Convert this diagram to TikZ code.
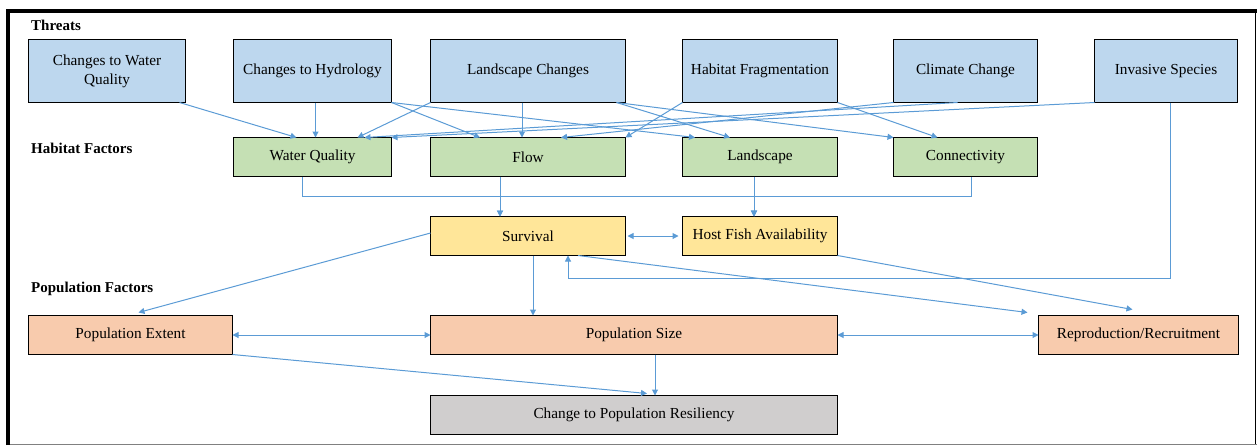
\documentclass[tikz,border=0pt]{standalone}
\usepackage{fontspec}
\setmainfont{Liberation Serif}
\usepackage{xcolor}
\usetikzlibrary{arrows.meta, positioning}

\definecolor{threatblue}{HTML}{BDD7EE}
\definecolor{habgreen}{HTML}{C5E0B4}
\definecolor{survyellow}{HTML}{FFE699}
\definecolor{poporange}{HTML}{F8CBAD}
\definecolor{resgray}{HTML}{D0CECE}
\definecolor{linkblue}{HTML}{5B9BD5}

\begin{document}
\begin{tikzpicture}[
    every node/.style={font=\fontsize{15.3}{19}\selectfont},
    box/.style={rectangle, draw=black, line width=1.2pt, align=center, inner sep=3pt, outer sep=0pt},
    threat/.style={box, fill=threatblue, minimum height=63pt},
    habitat/.style={box, fill=habgreen, minimum height=39pt},
    demog/.style={box, fill=survyellow, minimum height=39pt},
    popfac/.style={box, fill=poporange, minimum height=39pt},
    outcome/.style={box, fill=resgray, minimum height=39pt},
    heading/.style={font=\fontsize{15}{19}\selectfont\bfseries, anchor=base west, inner sep=0pt},
    arrow/.style={-{Triangle[length=6pt,width=6pt]}, draw=linkblue, line width=1pt},
    dbl/.style={arrow, {Triangle[length=6pt,width=6pt]}-{Triangle[length=6pt,width=6pt]}},
]
\useasboundingbox (0,0) rectangle (1257pt,-445pt);

% page frame
\draw[line width=4pt] (8pt,-445pt) -- (8pt,-11pt) -- (1257pt,-11pt);
\draw[line width=0.8pt] (1255.5pt,-11pt) -- (1255.5pt,-445pt);
\draw[gray, line width=1pt] (10pt,-444pt) -- (1257pt,-444pt);

\node[heading] (hthreat) at (31pt,-30pt) {Threats};
\node[heading] (hhab) at (31pt,-153pt) {Habitat Factors};
\node[heading] (hpop) at (31pt,-292pt) {Population Factors};

% threats
\node[threat, minimum width=157pt, anchor=north west] (waterq) at (28.5pt,-39.5pt) {Changes to Water\\Quality};
\node[threat, minimum width=158pt, right=48pt of waterq] (hydro) {Changes to Hydrology};
\node[threat, minimum width=195pt, right=39pt of hydro] (landch) {Landscape Changes};
\node[threat, minimum width=155pt, right=57pt of landch] (frag) {Habitat Fragmentation};
\node[threat, minimum width=144pt, right=56pt of frag] (climate) {Climate Change};
\node[threat, minimum width=143pt, right=57pt of climate] (invasive) {Invasive Species};

% habitat factors
\node[habitat, minimum width=158pt, below=35pt of hydro] (wq) {Water Quality};
\node[habitat, minimum width=195pt, below=35pt of landch] (flow) {Flow};
\node[habitat, minimum width=155pt, below=35pt of frag] (land) {Landscape};
\node[habitat, minimum width=144pt, below=35pt of climate] (conn) {Connectivity};

\node[demog, minimum width=195pt, below=40pt of flow] (surv) {Survival};
\node[demog, minimum width=155pt, below=40pt of land] (host) {Host Fish Availability};

% population factors
\node[popfac, minimum width=407pt, below right=60pt and 0pt of surv.south west] (popsize) {Population Size};
\node[popfac, minimum width=204pt, left=198pt of popsize] (popext) {Population Extent};
\node[popfac, minimum width=200pt, right=201pt of popsize] (repro) {Reproduction/Recruitment};
\node[outcome, minimum width=407pt, below=41pt of popsize] (resil) {Change to Population Resiliency};

\draw[arrow] ([xshift=-6pt]waterq.south east) -- ([xshift=-16pt]wq.north);
\draw[arrow] ([xshift=3pt]hydro.south) -- ([xshift=3pt]wq.north);
\draw[arrow] (landch.south west) -- ([xshift=45pt]wq.north);
\draw[arrow] ([xshift=-8pt]climate.south) -- ([xshift=52pt]wq.north);
\draw[arrow] (invasive.south west) -- (wq.north east);
\draw[arrow] (hydro.south east) -- ([xshift=-48pt]flow.north);
\draw[arrow] ([xshift=-6pt]landch.south) -- ([xshift=-6pt]flow.north);
\draw[arrow] (climate.south west) -- ([xshift=33pt]flow.north);
\draw[arrow] (frag.south west) -- (flow.north east);
\draw[arrow] (hydro.south east) -- ([xshift=-65pt]land.north);
\draw[arrow] ([xshift=-9pt]landch.south east) -- ([xshift=-30pt]land.north);
\draw[arrow] ([xshift=-9pt]landch.south east) -- (conn.north west);
\draw[arrow] (frag.south east) -- ([xshift=-28pt]conn.north);

\draw[arrow] ([xshift=-10pt]wq.south) -- ++(0,-20pt) -| ([xshift=-28pt]surv.north);
\draw[arrow] ([xshift=-28pt]flow.south) -- ([xshift=-28pt]surv.north);
\draw[arrow] ([xshift=-28pt]flow.south) -- ++(0,-20pt) -| ([xshift=-6pt]host.north);
\draw[arrow] ([xshift=-6pt]land.south) -- ([xshift=-6pt]host.north);
\draw[arrow] ([xshift=6pt]conn.south) -- ++(0,-20pt) -| ([xshift=-6pt]host.north);

\draw[dbl] ([xshift=2pt]surv.east) -- ([xshift=-4pt]host.west);
\draw[arrow] ([yshift=3pt]surv.west) -- ([xshift=8pt,yshift=3pt]popext.north);
\coordinate (svdrop) at ([xshift=5pt]surv.south);
\draw[arrow] (svdrop) -- (svdrop |- popsize.north);
\draw[arrow] ([xshift=50pt]surv.south) -- ([xshift=-11pt,yshift=3pt]repro.north west);
\draw[arrow] (host.south east) -- ([xshift=-6pt,yshift=6pt]repro.north);
\draw[arrow] ([xshift=4pt]invasive.south) -- ++(0,-176pt) -| ([xshift=40pt]surv.south);

\draw[dbl] (popext) -- (popsize);
\draw[dbl] (popsize) -- (repro);
\draw[arrow] (popext.south east) -- ([xshift=13pt,yshift=2pt]resil.north);
\draw[arrow] ([xshift=21pt]popsize.south) -- ([xshift=21pt]resil.north);
\end{tikzpicture}
\end{document}
